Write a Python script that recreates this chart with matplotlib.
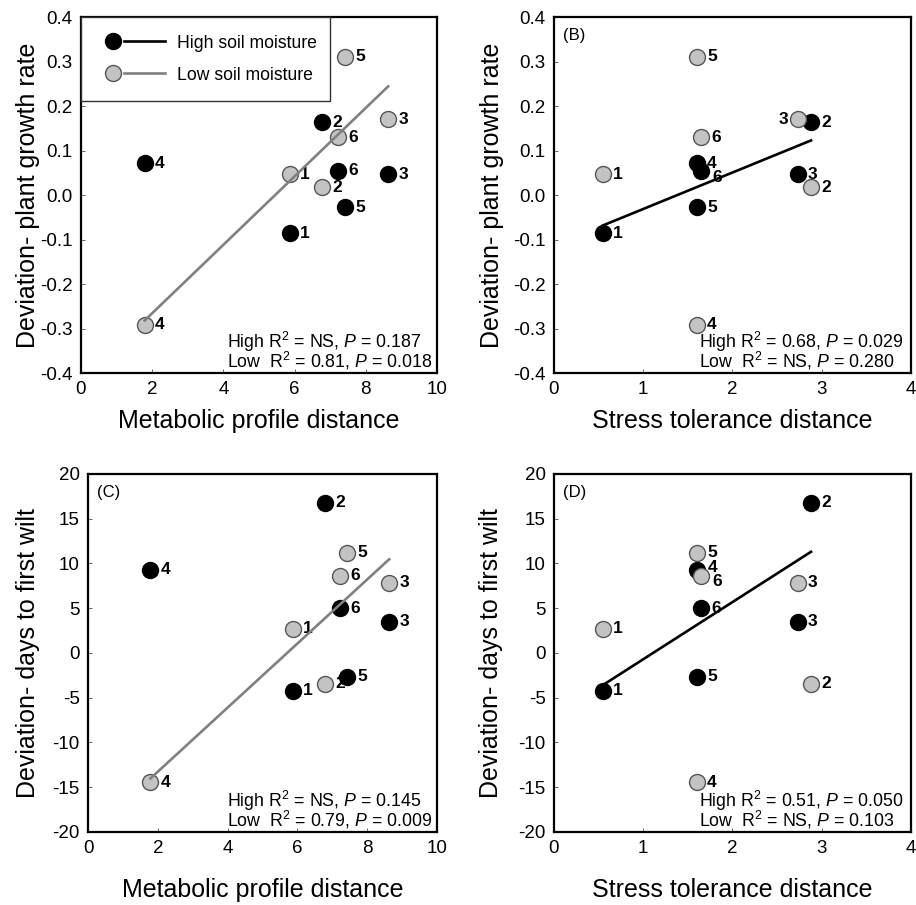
import matplotlib
matplotlib.use('Agg')
import matplotlib.pyplot as plt
import numpy as np
from matplotlib.lines import Line2D
from matplotlib.legend_handler import HandlerBase
from matplotlib.ticker import FormatStrFormatter

plt.rcParams['font.family'] = ['Liberation Sans', 'DejaVu Sans']
plt.rcParams['mathtext.fontset'] = 'custom'
plt.rcParams['mathtext.rm'] = 'Liberation Sans'
plt.rcParams['mathtext.it'] = 'Liberation Sans:italic'
plt.rcParams['axes.unicode_minus'] = False

# isolates 1..6
isolates = ['1', '2', '3', '4', '5', '6']

# x values
metabolic_dist = [5.86, 6.78, 8.63, 1.79, 7.43, 7.22]
stress_dist = [0.545, 2.88, 2.73, 1.60, 1.60, 1.65]

# deviation in plant growth rate
growth_high = [-0.086, 0.163, 0.047, 0.071, -0.028, 0.055]
growth_low = [0.047, 0.017, 0.170, -0.292, 0.311, 0.130]

# deviation in days to first wilt
wilt_high = [-4.2, 16.8, 3.5, 9.3, -2.65, 5.0]
wilt_low = [2.7, -3.45, 7.85, -14.45, 11.2, 8.6]

growth_ticks = [-0.4, -0.3, -0.2, -0.1, 0.0, 0.1, 0.2, 0.3, 0.4]
wilt_ticks = [-20, -15, -10, -5, 0, 5, 10, 15, 20]

stats_text = {
    'A': ['High R$^2$ = NS, $P$ = 0.187', 'Low  R$^2$ = 0.81, $P$ = 0.018'],
    'B': ['High R$^2$ = 0.68, $P$ = 0.029', 'Low  R$^2$ = NS, $P$ = 0.280'],
    'C': ['High R$^2$ = NS, $P$ = 0.145', 'Low  R$^2$ = 0.79, $P$ = 0.009'],
    'D': ['High R$^2$ = 0.51, $P$ = 0.050', 'Low  R$^2$ = NS, $P$ = 0.103'],
}
stats_x = {'A': 0.410, 'B': 0.406, 'C': 0.398, 'D': 0.406}

GRAY_FILL = '#c3c3c3'
GRAY_LINE = '#808080'
MS = 11.5

fig = plt.figure(figsize=(9.16, 9.05), dpi=100)
ax_a = fig.add_axes([0.0884, 0.5878, 0.3886, 0.3934])
ax_b = fig.add_axes([0.6048, 0.5878, 0.3897, 0.3934])
ax_c = fig.add_axes([0.0961, 0.0807, 0.3810, 0.3956])
ax_d = fig.add_axes([0.6048, 0.0807, 0.3897, 0.3956])

# label offsets (points) that differ from the default
special_offsets = {
    ('B', 'low', '3'): (-7, 0, 'right'),
    ('B', 'high', '6'): (8, -5, 'left'),
    ('D', 'high', '4'): (8, 1.5, 'left'),
    ('D', 'low', '6'): (8, -4, 'left'),
}


def draw_panel(ax, key, x, yh, yl, fit_series):
    ax.plot(x, yh, 'o', ms=MS, mfc='black', mec='black', mew=1, zorder=3)
    ax.plot(x, yl, 'o', ms=MS, mfc=GRAY_FILL, mec='#555555', mew=1, zorder=3)
    for name, ys in (('high', yh), ('low', yl)):
        for xi, yi, lab in zip(x, ys, isolates):
            dx, dy, ha = special_offsets.get((key, name, lab), (7.5, 0, 'left'))
            ax.annotate(lab, (xi, yi), xytext=(dx, dy), textcoords='offset points',
                        ha=ha, va='center', fontsize=12.5, fontweight='bold', zorder=2)
    # regression line for the significant series
    ys = yh if fit_series == 'high' else yl
    col = 'black' if fit_series == 'high' else GRAY_LINE
    k, b = np.polyfit(x, ys, 1)
    xs = np.array([min(x), max(x)])
    ax.plot(xs, k * xs + b, color=col, lw=1.9, zorder=4)
    t1, t2 = stats_text[key]
    ax.text(stats_x[key], 0.071, t1, transform=ax.transAxes, ha='left', va='baseline', fontsize=12.8)
    ax.text(stats_x[key], 0.016, t2, transform=ax.transAxes, ha='left', va='baseline', fontsize=12.8)
    for s in ax.spines.values():
        s.set_linewidth(1.6)
    ax.tick_params(direction='in', length=3, width=0.7, color='#666666', labelsize=13.5, pad=6)


draw_panel(ax_a, 'A', metabolic_dist, growth_high, growth_low, 'low')
draw_panel(ax_b, 'B', stress_dist, growth_high, growth_low, 'high')
draw_panel(ax_c, 'C', metabolic_dist, wilt_high, wilt_low, 'low')
draw_panel(ax_d, 'D', stress_dist, wilt_high, wilt_low, 'high')

for ax in (ax_a, ax_b):
    ax.set_ylim(-0.4, 0.4)
    ax.set_yticks(growth_ticks)
    ax.yaxis.set_major_formatter(FormatStrFormatter('%.1f'))
    ax.set_ylabel('Deviation- plant growth rate', fontsize=18)
for ax in (ax_c, ax_d):
    ax.set_ylim(-20, 20)
    ax.set_yticks(wilt_ticks)
    ax.set_ylabel('Deviation- days to first wilt', fontsize=18)
for ax in (ax_a, ax_c):
    ax.set_xlim(0, 10)
    ax.set_xticks(range(0, 11, 2))
    ax.set_xlabel('Metabolic profile distance', fontsize=18, labelpad=8)
for ax in (ax_b, ax_d):
    ax.set_xlim(0, 4)
    ax.set_xticks(range(0, 5))
    ax.set_xlabel('Stress tolerance distance', fontsize=18, labelpad=8)
ax_c.xaxis.labelpad = 15
ax_d.xaxis.labelpad = 15
ax_a.yaxis.labelpad = 0
ax_b.yaxis.labelpad = 6.5
ax_c.yaxis.labelpad = 8.6
ax_d.yaxis.labelpad = 11

for ax, lab in ((ax_b, '(B)'), (ax_c, '(C)'), (ax_d, '(D)')):
    ax.text(0.025, 0.947, lab, transform=ax.transAxes, ha='left', va='center', fontsize=12)


class MarkerThenLine(HandlerBase):
    # marker on the left, short line segment to its right
    def create_artists(self, legend, orig_handle, xdescent, ydescent, width, height,
                       fontsize, trans):
        marker, line = orig_handle
        y = height / 2 - ydescent
        m = Line2D([0.21 * width - xdescent], [y], ls='none', marker='o',
                   ms=marker.get_markersize(), mfc=marker.get_markerfacecolor(),
                   mec=marker.get_markeredgecolor(), transform=trans)
        seg = Line2D([0.39 * width - xdescent, width - xdescent], [y, y],
                     color=line.get_color(), lw=line.get_linewidth(), transform=trans)
        return [m, seg]


# legend in panel A
hm = Line2D([], [], ls='none', marker='o', ms=MS, mfc='black', mec='black')
hl = Line2D([], [], color='black', lw=1.9)
gm = Line2D([], [], ls='none', marker='o', ms=MS, mfc=GRAY_FILL, mec='#555555')
gl = Line2D([], [], color=GRAY_LINE, lw=1.9)
leg = ax_a.legend([(hm, hl), (gm, gl)], ['High soil moisture', 'Low soil moisture'],
                  handler_map={tuple: MarkerThenLine()},
                  loc='upper left', bbox_to_anchor=(0, 0.8, 0.70, 0.2), mode='expand',
                  borderaxespad=0, fancybox=False, fontsize=12.7, handlelength=3.75,
                  handletextpad=0.68, borderpad=1.0, labelspacing=0.85, framealpha=1)
leg.get_frame().set_edgecolor('#333333')
leg.get_frame().set_linewidth(1.0)
leg.set_zorder(5)

fig.savefig('out.png', dpi=100)
